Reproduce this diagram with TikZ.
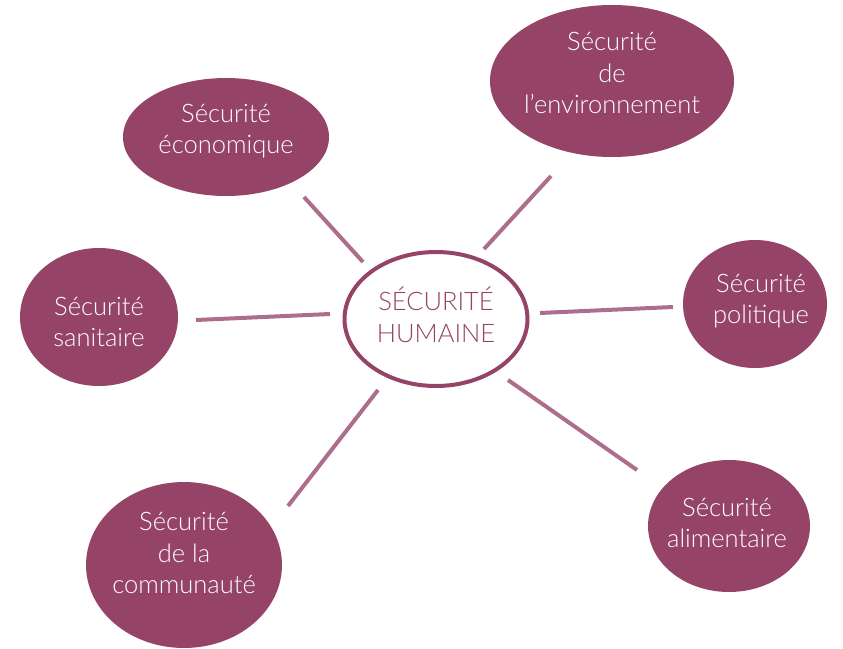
\documentclass[tikz,border=0pt]{standalone}
\usepackage{fontspec}
\setmainfont{Lato}[UprightFont={* Light}]
\usetikzlibrary{shapes.geometric}
\definecolor{plum}{HTML}{954468}
\definecolor{lineplum}{HTML}{AD6D8C}
\tikzset{
  bubble/.style={ellipse, fill=plum, inner sep=0pt},
  hub/.style={ellipse, draw=plum, line width=4pt, fill=white, inner sep=0pt},
  lbl/.style={text=white, inner sep=0pt, align=center, font=\fontsize{25.5}{31.5}\selectfont},
  hublbl/.style={lbl, text=plum},
  spoke/.style={lineplum, line width=4pt}
}
\begin{document}
\begin{tikzpicture}[x=1pt,y=-1pt]
\useasboundingbox (0,0) rectangle (843,648);
\node[hub, minimum width=183pt, minimum height=134pt] (hub) at (436,319) {};
\node[hublbl] (hubT) at (436,315) {SÉCURITÉ\\HUMAINE};
\node[bubble, minimum width=206pt, minimum height=118pt] (eco) at (226,137) {};
\node[lbl] (ecoT) at (226,131) {Sécurité\\économique};
\node[bubble, minimum width=244pt, minimum height=152pt] (env) at (612,81) {};
\node[lbl] (envT) at (612,73) {Sécurité\\de\\l’environnement};
\node[bubble, minimum width=158pt, minimum height=138pt] (san) at (99,317) {};
\node[lbl] (sanT) at (99,322) {Sécurité\\sanitaire};
\node[bubble, minimum width=144pt, minimum height=128pt] (pol) at (755,304) {};
\node[lbl] (polT) at (761,301) {Sécurité\\politique};
\node[bubble, minimum width=196pt, minimum height=166pt] (com) at (184,565) {};
\node[lbl] (comT) at (184,553) {Sécurité\\de la\\communauté};
\node[bubble, minimum width=162pt, minimum height=132pt] (ali) at (729,526) {};
\node[lbl] (aliT) at (727,523) {Sécurité\\alimentaire};
% spoke ends
\coordinate (eco1) at (363,262); \coordinate (eco2) at (304,197);
\coordinate (env1) at (484,249); \coordinate (env2) at (551,176);
\coordinate (san1) at (330,314); \coordinate (san2) at (196,320);
\coordinate (pol1) at (540,313); \coordinate (pol2) at (673,307);
\coordinate (com1) at (378,390); \coordinate (com2) at (288,506);
\coordinate (ali1) at (508,380); \coordinate (ali2) at (637,470);
\draw[spoke] (eco1) -- (eco2);
\draw[spoke] (env1) -- (env2);
\draw[spoke] (san1) -- (san2);
\draw[spoke] (pol1) -- (pol2);
\draw[spoke] (com1) -- (com2);
\draw[spoke] (ali1) -- (ali2);
\end{tikzpicture}
\end{document}
